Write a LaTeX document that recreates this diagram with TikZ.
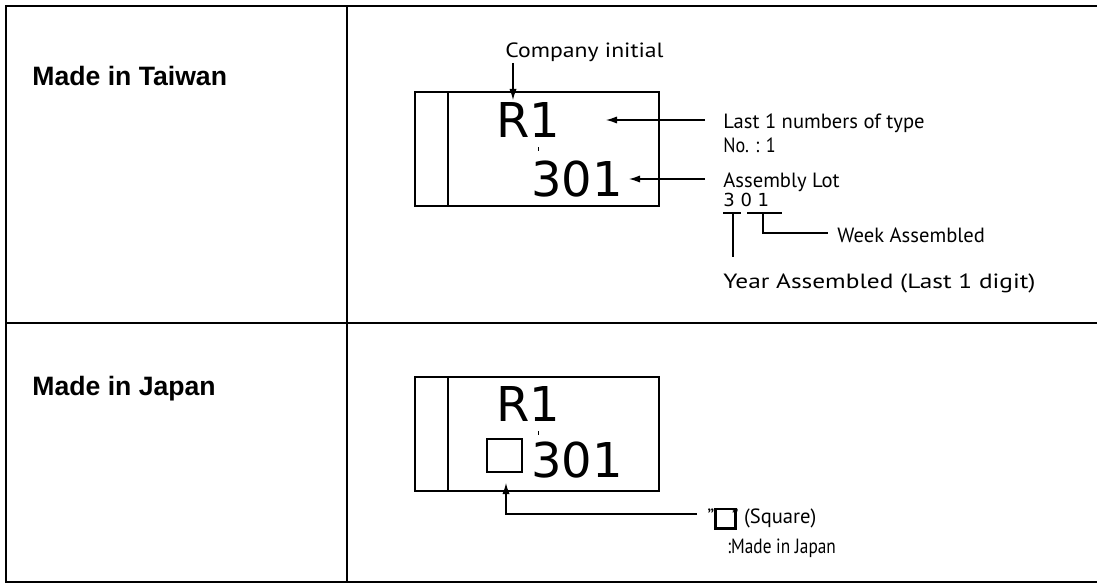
\documentclass[tikz,border=0pt]{standalone}
\usepackage{fontspec}
\setmainfont{PT Sans}
\newfontfamily\arialfont{Liberation Sans}
\newfontfamily\dvfont{DejaVu Sans}
\usetikzlibrary{arrows.meta}
\newcommand{\sqglyph}{{\setlength\fboxrule{1.3pt}\setlength\fboxsep{0pt}\raisebox{-2.2pt}{\fbox{\rule{0pt}{8.5pt}\hspace{8.5pt}}}}}
\newcommand{\hsx}[2]{\scalebox{#1}[1]{#2}}
\begin{document}
\begin{tikzpicture}[x=0.5pt,y=-0.5pt,
  framestroke/.style={line width=1.4pt},
  chipstroke/.style={line width=1.3pt},
  lead/.style={line width=0.6pt},
  arr/.style={lead,-{Latex[length=5.5pt,width=3.6pt]}},
  lbl/.style={inner sep=0pt,anchor=base west,font=\fontsize{10.3}{12}\selectfont},
  head/.style={inner sep=0pt,anchor=base west,font=\arialfont\bfseries\fontsize{13.3}{15}\selectfont},
  chiptext/.style={inner sep=0pt,anchor=base west,font=\dvfont\fontsize{24}{28}\selectfont},
  lotdigits/.style={inner sep=0pt,anchor=base west,font=\dvfont\fontsize{9}{11}\selectfont}]
\useasboundingbox (0,0) rectangle (1097,583);
% table frame
\draw[framestroke] (1097,6) -- (6,6) -- (6,582) -- (1097,582);
\draw[framestroke] (6,323) -- (1097,323);
\draw[framestroke] (347,6) -- (347,582);
% row headings
\node[head] (tw) at (32,86) {Made in Taiwan};
\node[head] (jp) at (32,395) {Made in Japan};
% Taiwan chip
\draw[chipstroke] (415,92) rectangle (659,206);
\draw[chipstroke] (448,92) -- (448,206);
\node[chiptext] (twR) at (496,137) {R1};
\node[chiptext] (twN) at (531,196) {301};
\draw[line width=0.4pt] (538,147) -- (538,151);
% Taiwan labels
\node[lbl] (ci) at (505,58) {\hsx{1.15}{Company initial}};
\coordinate (ciFoot) at (513,63);
\coordinate (ciTip) at (513,100);
\draw[arr] (ciFoot) -- (ciTip);
\node[lbl] (l1) at (723,128) {Last 1 numbers of type};
\node[lbl] (l2) at (723,153) {\hsx{0.88}{No. : 1}};
\coordinate (l1End) at (705,120);
\coordinate (l1Tip) at (606,120);
\draw[arr] (l1End) -- (l1Tip);
\node[lbl] (al) at (723,187) {Assembly Lot};
\coordinate (alEnd) at (705,179);
\coordinate (alTip) at (629,179);
\draw[arr] (alEnd) -- (alTip);
\node[lotdigits] (ld) at (723,206) {3 0 1};
\draw[lead,line width=0.8pt] (723,213) -- (741,213);
\draw[lead,line width=0.8pt] (747,213) -- (782,213);
\coordinate (yrTop) at (733,213);
\coordinate (yrBot) at (733,257);
\draw[lead,line width=0.8pt] (yrTop) -- (yrBot);
\node[lbl] (wk) at (837,242) {Week Assembled};
\coordinate (wkTop) at (763,213);
\coordinate (wkEnd) at (828,233);
\draw[lead,line width=0.8pt] (wkTop) |- (wkEnd);
\node[lbl] (yr) at (723,288) {\hsx{1.23}{Year Assembled (Last 1 digit)}};
% Japan chip
\draw[chipstroke] (415,377) rectangle (659,491);
\draw[chipstroke] (448,377) -- (448,491);
\node[chiptext] (jpR) at (496,421) {R1};
\node[chiptext] (jpN) at (531,477) {301};
\draw[chipstroke] (487,439) rectangle (522,472);
\coordinate (sqTip) at (506,483);
\draw[line width=0.4pt] (538,431) -- (538,435);
% Japan label
\node[lbl] (sq) at (707,523) {"\sqglyph\kern-2.5pt" (Square)};
\node[lbl] (mj) at (727,553) {\hsx{0.84}{:Made in Japan}};
\coordinate (sqEnd) at (697,514);
\draw[arr] (sqEnd) -| (sqTip);
\end{tikzpicture}
\end{document}
